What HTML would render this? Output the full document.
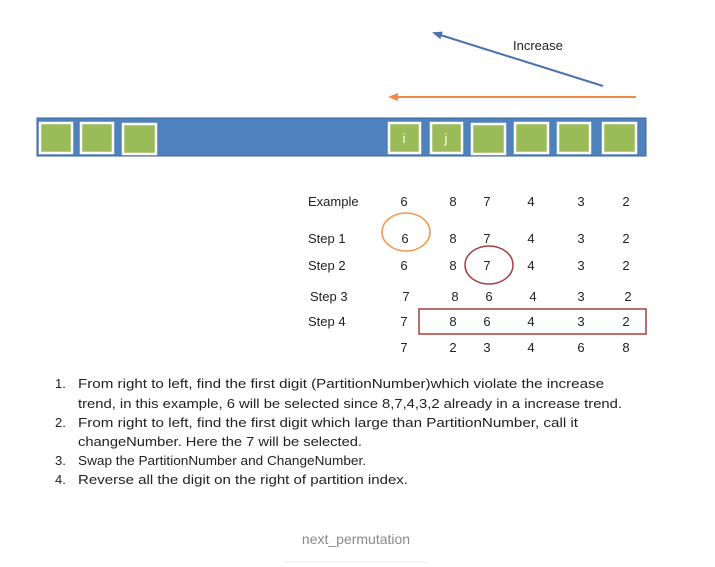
<!DOCTYPE html>
<html><head><meta charset="utf-8"><style>
html,body{margin:0;padding:0;background:#fff;width:715px;height:567px;overflow:hidden}
svg{display:block;font-family:"Liberation Sans",sans-serif}
</style></head><body>
<svg width="715" height="567" viewBox="0 0 715 567">
<defs>
<marker id="ab" markerUnits="userSpaceOnUse" markerWidth="10" markerHeight="10" refX="8" refY="5" orient="auto"><path d="M0,1 L10,5 L0,9 z" fill="#4a72b0"/></marker>
<marker id="ao" markerUnits="userSpaceOnUse" markerWidth="10" markerHeight="10" refX="8" refY="5" orient="auto"><path d="M0,1 L10,5 L0,9 z" fill="#ef8a4a"/></marker>
</defs>
<line x1="603" y1="86" x2="434" y2="33" stroke="#4a72b0" stroke-width="2" marker-end="url(#ab)"/>
<text x="513" y="50" font-size="13" fill="#222">Increase</text>
<line x1="636" y1="97" x2="390" y2="97" stroke="#ef8a4a" stroke-width="2" marker-end="url(#ao)"/>
<rect x="37" y="118" width="609" height="38" fill="#4f81bd" stroke="#3a6699"/>
<g stroke="#fff" stroke-width="2.5" fill="#9bbb59">
<rect x="40" y="123" width="32" height="30"/><rect x="81" y="123" width="32" height="30"/><rect x="123" y="124" width="33" height="30"/>
<rect x="389" y="123" width="31" height="30"/><rect x="431" y="123" width="31" height="30"/><rect x="472" y="124" width="33" height="30"/>
<rect x="515" y="123" width="33" height="30"/><rect x="558" y="123" width="32" height="30"/><rect x="603" y="123" width="33" height="30"/>
</g>
<text x="404" y="143" font-size="13" fill="#fff" text-anchor="middle">i</text>
<text x="446" y="143" font-size="13" fill="#fff" text-anchor="middle">j</text>
<g font-size="13" fill="#222" text-anchor="middle">
<text x="308" y="206" text-anchor="start">Example</text>
<text x="404" y="206">6</text><text x="453" y="206">8</text><text x="487" y="206">7</text><text x="531" y="206">4</text><text x="581" y="206">3</text><text x="626" y="206">2</text>
<text x="308" y="243" text-anchor="start">Step 1</text>
<text x="405" y="243">6</text><text x="453" y="243">8</text><text x="487" y="243">7</text><text x="531" y="243">4</text><text x="581" y="243">3</text><text x="626" y="243">2</text>
<text x="308" y="270" text-anchor="start">Step 2</text>
<text x="404" y="270">6</text><text x="453" y="270">8</text><text x="487" y="270">7</text><text x="531" y="270">4</text><text x="581" y="270">3</text><text x="626" y="270">2</text>
<text x="310" y="301" text-anchor="start">Step 3</text>
<text x="406" y="301">7</text><text x="455" y="301">8</text><text x="489" y="301">6</text><text x="533" y="301">4</text><text x="581" y="301">3</text><text x="628" y="301">2</text>
<text x="308" y="326" text-anchor="start">Step 4</text>
<text x="404" y="326">7</text><text x="453" y="326">8</text><text x="487" y="326">6</text><text x="531" y="326">4</text><text x="581" y="326">3</text><text x="626" y="326">2</text>
<text x="404" y="352">7</text><text x="453" y="352">2</text><text x="487" y="352">3</text><text x="531" y="352">4</text><text x="581" y="352">6</text><text x="626" y="352">8</text>
</g>
<ellipse cx="406" cy="232" rx="24" ry="19" fill="none" stroke="#f79646" stroke-width="1.5"/>
<ellipse cx="489" cy="265" rx="24" ry="19" fill="none" stroke="#a33f3f" stroke-width="1.5"/>
<rect x="419" y="309" width="227" height="25" fill="none" stroke="#a33f3f" stroke-width="1.5"/>
<g font-size="13" fill="#222">
<text x="55" y="388">1.</text><text x="78" y="388" textLength="526" lengthAdjust="spacingAndGlyphs">From right to left, find the first digit (PartitionNumber)which violate the increase</text>
<text x="78" y="408" textLength="544" lengthAdjust="spacingAndGlyphs">trend, in this example, 6 will be selected since 8,7,4,3,2 already in a increase trend.</text>
<text x="55" y="427">2.</text><text x="78" y="427" textLength="500" lengthAdjust="spacingAndGlyphs">From right to left, find the first digit which large than PartitionNumber, call it</text>
<text x="78" y="446" textLength="284" lengthAdjust="spacingAndGlyphs">changeNumber. Here the 7 will be selected.</text>
<text x="55" y="465">3.</text><text x="78" y="465" textLength="288" lengthAdjust="spacingAndGlyphs">Swap the PartitionNumber and ChangeNumber.</text>
<text x="55" y="484">4.</text><text x="78" y="484" textLength="330" lengthAdjust="spacingAndGlyphs">Reverse all the digit on the right of partition index.</text>
</g>
<text x="356" y="544" font-size="14" fill="#888" text-anchor="middle">next_permutation</text>
<line x1="283" y1="562" x2="428" y2="562" stroke="#eee"/>
</svg>
</body></html>
